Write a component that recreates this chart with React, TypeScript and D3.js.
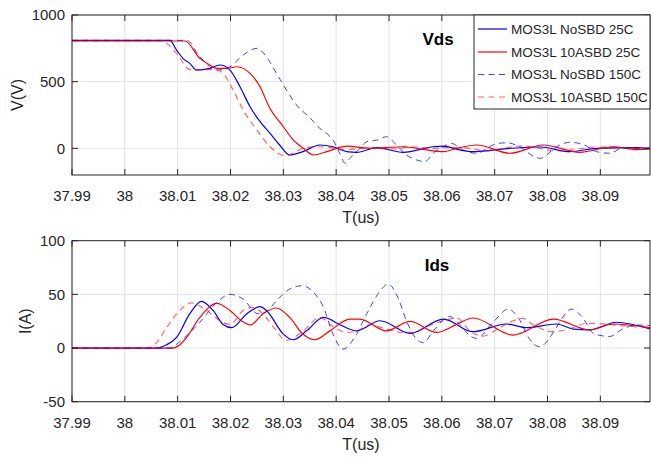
import React from "react";
import * as d3 from "d3";

type Pt = [number, number];

const xTicks = [37.99, 38, 38.01, 38.02, 38.03, 38.04, 38.05, 38.06, 38.07, 38.08, 38.09];
const vTicks = [0, 500, 1000];
const iTicks = [-50, 0, 50, 100];
const seriesNames = ["MOS3L NoSBD 25C", "MOS3L 10ASBD 25C", "MOS3L NoSBD 150C", "MOS3L 10ASBD 150C"];

const vdsNoSbd25: Pt[] = [[37.99,810],[38.0085,810],[38.0098,737],[38.011,675],[38.0123,637],[38.0136,587],[38.0161,600],[38.018,625],[38.0199,587],[38.0218,462],[38.0237,312],[38.0256,200],[38.0275,112],[38.0293,25],[38.0312,-50],[38.0337,-25],[38.0369,25],[38.0394,12],[38.042,-25],[38.0439,-30],[38.0477,5],[38.0527,-30],[38.0584,12],[38.0603,17],[38.0634,-12],[38.0659,-25],[38.0729,0],[38.0786,10],[38.0842,-25],[38.0893,0],[38.0968,5],[38.0994,-5]];
const vdsAsbd25: Pt[] = [[37.99,805],[38.0114,805],[38.0142,675],[38.0161,625],[38.0174,600],[38.0195,600],[38.0212,612],[38.0237,562],[38.0256,462],[38.0273,312],[38.03,162],[38.0319,62],[38.0338,0],[38.0357,-50],[38.0382,-25],[38.0401,0],[38.042,17],[38.0464,0],[38.0527,12],[38.0571,-12],[38.0603,-25],[38.0628,0],[38.0666,25],[38.0729,-37],[38.0792,25],[38.0861,-30],[38.0924,12],[38.0969,-10],[38.0994,-5]];
const vdsNoSbd150: Pt[] = [[37.99,810],[38.0117,810],[38.0142,687],[38.0174,587],[38.0199,612],[38.0224,700],[38.025,750],[38.0268,687],[38.0287,562],[38.0306,437],[38.0325,325],[38.035,230],[38.0369,150],[38.0384,105],[38.0396,50],[38.0407,-40],[38.0417,-112],[38.0426,-75],[38.0445,0],[38.0458,50],[38.0477,62],[38.0495,87],[38.0514,25],[38.0533,-50],[38.0552,-87],[38.0568,-100],[38.0584,-35],[38.0603,12],[38.0618,37],[38.064,-12],[38.0666,-37],[38.0697,25],[38.0722,42],[38.0748,10],[38.0773,-58],[38.0786,-75],[38.0817,12],[38.0842,45],[38.0867,30],[38.0893,-25],[38.0918,-37],[38.0943,5],[38.0969,0],[38.0994,5]];
const vdsAsbd150: Pt[] = [[37.99,805],[38.007,805],[38.0098,712],[38.0123,592],[38.0174,590],[38.0186,562],[38.0205,437],[38.0224,287],[38.025,137],[38.0275,12],[38.0303,-55],[38.0338,0],[38.0363,12],[38.039,5],[38.0414,-10],[38.046,0],[38.0514,-5],[38.0539,12],[38.0583,0],[38.062,5],[38.0653,0],[38.0684,-20],[38.0748,17],[38.0823,-20],[38.0893,10],[38.0968,0],[38.0994,-8]];

const idsNoSbd25: Pt[] = [[37.99,0],[38.006,0],[38.0079,3],[38.0098,10],[38.0123,32],[38.0145,43.4],[38.0167,35],[38.0186,22],[38.0202,19],[38.0231,32],[38.0256,38.5],[38.0268,35],[38.03,13],[38.0319,7.7],[38.0344,16],[38.0376,28.5],[38.041,21],[38.0439,16],[38.0483,25.4],[38.054,13.6],[38.0603,27],[38.0659,15.2],[38.0722,22.4],[38.0761,19],[38.0817,22.4],[38.0849,17.7],[38.088,17],[38.093,24],[38.0994,17.7]];
const idsAsbd25: Pt[] = [[37.99,0],[38.0091,0],[38.0104,3],[38.0117,10],[38.0142,28.5],[38.0174,41.6],[38.0199,35],[38.0222,25],[38.0237,21.5],[38.0262,32],[38.0287,37.3],[38.0312,28.5],[38.0337,13],[38.036,7.7],[38.0388,16],[38.0426,27],[38.0445,27],[38.0495,16],[38.054,24.8],[38.059,14.5],[38.0628,22],[38.0659,28],[38.0735,12],[38.0811,27],[38.088,16.8],[38.0924,22.4],[38.0994,19]];
const idsNoSbd150: Pt[] = [[37.99,0],[38.0085,0],[38.0104,6],[38.0142,24],[38.0174,42.5],[38.0199,50],[38.0224,45.6],[38.0252,32],[38.0268,34],[38.0287,44],[38.0312,55],[38.0335,58],[38.0357,52],[38.0376,38],[38.0394,13],[38.0413,-1],[38.0435,10],[38.0458,32],[38.0483,53],[38.0498,59.6],[38.0517,47],[38.0533,25.4],[38.0552,8.4],[38.0565,5],[38.0584,16],[38.0615,29.4],[38.0634,22],[38.0653,11.5],[38.0666,9],[38.0697,24],[38.0726,36.3],[38.0745,28],[38.0766,8.4],[38.0785,1.2],[38.0811,14.5],[38.0828,28],[38.0845,36.3],[38.0864,30],[38.0889,13],[38.0918,10.8],[38.0943,18],[38.0969,21.4],[38.0994,21]];
const idsAsbd150: Pt[] = [[37.99,0],[38.0041,0],[38.006,5],[38.0079,19],[38.0104,35],[38.0126,42],[38.0155,35],[38.018,25.4],[38.0199,22],[38.0224,35],[38.0243,37.8],[38.0268,28],[38.0287,16],[38.0304,7],[38.0338,16],[38.0369,28.5],[38.0394,20],[38.042,14.5],[38.0439,16],[38.0464,21.7],[38.0486,19],[38.0527,14.5],[38.0546,14.5],[38.0571,20],[38.0603,25.4],[38.0628,28],[38.0653,16],[38.0678,11],[38.0703,17],[38.0722,22.4],[38.0754,27.6],[38.0772,22],[38.0811,15.2],[38.0842,18],[38.0874,23],[38.0905,22.5],[38.0937,21],[38.0994,19]];

const W = 651;
const H = 458;
const FONT = "'Liberation Sans', Arial, Helvetica, sans-serif";
const TXT = "#262626";

const styles = [
  { color: "#0000ff", dash: undefined as string | undefined, opacity: 1, width: 1.2 },
  { color: "#ff0000", dash: undefined as string | undefined, opacity: 1, width: 1.2 },
  { color: "#0000ff", dash: "6,4.5", opacity: 0.75, width: 1 },
  { color: "#ff0000", dash: "6,4.5", opacity: 0.6, width: 1.2 },
];

const x = d3.scaleLinear().domain([37.99, 38.0994]).range([72, 650]);

type PanelProps = {
  id: string;
  top: number;
  bottom: number;
  domain: [number, number];
  ticks: number[];
  series: Pt[][];
  ylabel: string;
  ylabelX: number;
  title: string;
  titleX: number;
};

function Panel(p: PanelProps) {
  const y = d3.scaleLinear().domain(p.domain).range([p.bottom, p.top]);
  const line = d3
    .line<Pt>()
    .x((d) => x(d[0]))
    .y((d) => y(d[1]))
    .curve(d3.curveMonotoneX);
  const x0 = x.range()[0];
  const x1 = x.range()[1];
  const midY = (p.top + p.bottom) / 2;
  return (
    <g>
      <defs>
        <clipPath id={p.id}>
          <rect x={x0} y={p.top} width={x1 - x0} height={p.bottom - p.top} />
        </clipPath>
      </defs>
      <rect x={x0} y={p.top} width={x1 - x0} height={p.bottom - p.top} fill="#fff" />
      {xTicks.map((t) => (
        <line key={"gx" + t} x1={x(t)} x2={x(t)} y1={p.top} y2={p.bottom} stroke="#e3e3e3" strokeWidth={1} />
      ))}
      {p.ticks.map((t) => (
        <line key={"gy" + t} x1={x0} x2={x1} y1={y(t)} y2={y(t)} stroke="#e3e3e3" strokeWidth={1} />
      ))}
      <g clipPath={`url(#${p.id})`}>
        {p.series.map((s, i) => (
          <path
            key={i}
            d={line(s) || ""}
            fill="none"
            stroke={styles[i].color}
            strokeWidth={styles[i].width}
            strokeDasharray={styles[i].dash}
            strokeOpacity={styles[i].opacity}
          />
        ))}
      </g>
      <rect x={x0} y={p.top} width={x1 - x0} height={p.bottom - p.top} fill="none" stroke={TXT} strokeWidth={1} />
      {xTicks.map((t) => (
        <g key={"tx" + t}>
          <line x1={x(t)} x2={x(t)} y1={p.bottom} y2={p.bottom - 6} stroke={TXT} />
          <line x1={x(t)} x2={x(t)} y1={p.top} y2={p.top + 6} stroke={TXT} />
          <text x={x(t)} y={p.bottom + 26} textAnchor="middle" fontSize={15} fill={TXT} fontFamily={FONT}>
            {d3.format("")(t)}
          </text>
        </g>
      ))}
      {p.ticks.map((t) => (
        <g key={"ty" + t}>
          <line x1={x0} x2={x0 + 6} y1={y(t)} y2={y(t)} stroke={TXT} />
          <line x1={x1} x2={x1 - 6} y1={y(t)} y2={y(t)} stroke={TXT} />
          <text x={65} y={y(t)} dy="0.36em" textAnchor="end" fontSize={15} fill={TXT} fontFamily={FONT}>
            {t}
          </text>
        </g>
      ))}
      <text
        transform={`translate(${p.ylabelX},${midY}) rotate(-90)`}
        textAnchor="middle"
        fontSize={16}
        fill={TXT}
        fontFamily={FONT}
      >
        {p.ylabel}
      </text>
      <text x={(x0 + x1) / 2} y={p.bottom + 48} textAnchor="middle" fontSize={16} fill={TXT} fontFamily={FONT}>
        T(us)
      </text>
      <text x={p.titleX} y={p.top + 30} textAnchor="middle" fontSize={17} fontWeight="bold" fill="#000" fontFamily={FONT}>
        {p.title}
      </text>
    </g>
  );
}

function Legend() {
  const lx = 474;
  const ly = 15;
  const rows = [29, 52, 74.5, 97];
  return (
    <g>
      <rect x={lx} y={ly} width={650 - lx} height={94} fill="#fff" stroke={TXT} strokeWidth={1} />
      {seriesNames.map((n, i) => (
        <g key={n}>
          <line
            x1={478}
            x2={507}
            y1={rows[i]}
            y2={rows[i]}
            stroke={styles[i].color}
            strokeWidth={styles[i].width}
            strokeDasharray={styles[i].dash}
            strokeOpacity={styles[i].opacity}
          />
          <text x={511} y={rows[i]} dy="0.36em" fontSize={13.5} fill={TXT} fontFamily={FONT}>
            {n}
          </text>
        </g>
      ))}
    </g>
  );
}

export default function App() {
  return (
    <svg
      width={W}
      height={H}
      viewBox={`0 0 ${W} ${H}`}
      style={{ position: "absolute", left: 0, top: 0, background: "#fff" }}
    >
      <rect x={0} y={0} width={W} height={H} fill="#fff" />
      <Panel
        id="clipV"
        top={15}
        bottom={175}
        domain={[-200, 1000]}
        ticks={vTicks}
        series={[vdsNoSbd25, vdsAsbd25, vdsNoSbd150, vdsAsbd150]}
        ylabel="V(V)"
        ylabelX={23}
        title="Vds"
        titleX={438}
      />
      <Panel
        id="clipI"
        top={240.7}
        bottom={401.7}
        domain={[-50, 100]}
        ticks={iTicks}
        series={[idsNoSbd25, idsAsbd25, idsNoSbd150, idsAsbd150]}
        ylabel="I(A)"
        ylabelX={31}
        title="Ids"
        titleX={437}
      />
      <Legend />
    </svg>
  );
}
